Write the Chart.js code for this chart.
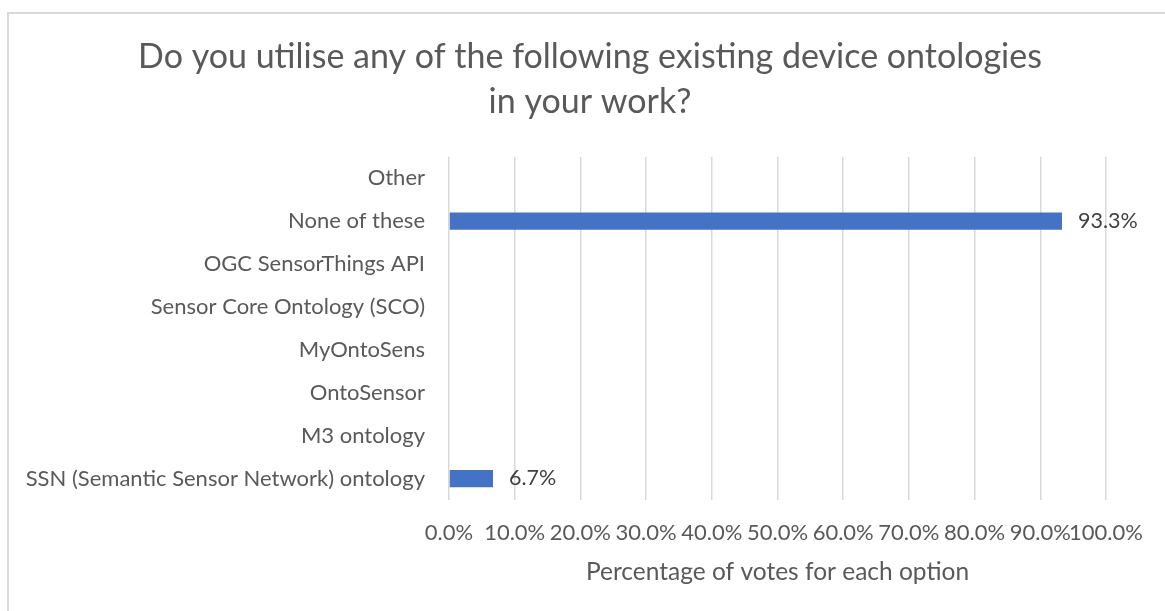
<!DOCTYPE html>
<html><head><meta charset="utf-8">
<script src="https://cdn.jsdelivr.net/npm/chart.js@4/dist/chart.umd.min.js"></script>
<style>
html,body{margin:0;padding:0;background:#fff;}
#wrap{position:relative;width:1165px;height:611px;overflow:hidden;background:#fff;}
#frame{position:absolute;left:7px;top:12px;width:1300px;height:800px;border-left:2px solid #d9d9d9;border-top:2px solid #d9d9d9;}
#c{position:absolute;left:0;top:0;}
</style></head><body>
<div id="wrap"><div id="frame"></div><canvas id="c" width="1165" height="611"></canvas></div>
<script>
const titleLines = ['Do you utilise any of the following existing device ontologies', 'in your work?'];
const axisTitle = 'Percentage of votes for each option';
const categories = ['Other', 'None of these', 'OGC SensorThings API', 'Sensor Core Ontology (SCO)', 'MyOntoSens', 'OntoSensor', 'M3 ontology', 'SSN (Semantic Sensor Network) ontology'];
const votePercent = [0, 93.3, 0, 0, 0, 0, 0, 6.7];
const xMin = 0, xMax = 100, xStep = 10;

const FONT = 'Lato';
const TXT = '#595959';

const dataLabels = {
  id: 'dataLabels',
  afterDatasetsDraw(chart) {
    const ctx = chart.ctx;
    const meta = chart.getDatasetMeta(0);
    ctx.save();
    ctx.font = '21.5px ' + FONT;
    ctx.fillStyle = '#404040';
    ctx.textAlign = 'left';
    ctx.textBaseline = 'middle';
    meta.data.forEach((bar, i) => {
      const v = votePercent[i];
      if (v > 0) ctx.fillText(v.toFixed(1) + '%', bar.x + 16, bar.y);
    });
    ctx.restore();
  }
};

// centre the chart title over the framed card rather than over the padded layout box
const titleCentre = {
  id: 'titleCentre',
  afterLayout(chart) {
    const t = chart.titleBlock;
    if (t) { t.left = 15; t.right = 1165; t.width = 1150; }
  }
};

new Chart(document.getElementById('c'), {
  type: 'bar',
  data: {
    labels: categories,
    datasets: [{
      data: votePercent,
      backgroundColor: '#4472C4',
      borderWidth: 0,
      barPercentage: 0.5,
      categoryPercentage: 0.8
    }]
  },
  options: {
    indexAxis: 'y',
    responsive: false,
    animation: false,
    events: [],
    layout: { padding: { left: 0, right: 59, top: 0, bottom: 0 } },
    plugins: {
      legend: { display: false },
      tooltip: { enabled: false },
      title: {
        display: true,
        text: titleLines,
        color: TXT,
        font: { family: FONT, size: 34, weight: 'normal', lineHeight: 1.32 },
        padding: { top: 35, bottom: 32 }
      }
    },
    scales: {
      x: {
        min: xMin, max: xMax,
        grid: { color: '#d9d9d9', lineWidth: 1.5, drawTicks: false },
        border: { display: false },
        ticks: {
          stepSize: xStep, autoSkip: false, maxRotation: 0, minRotation: 0,
          padding: 20, color: TXT,
          font: { family: FONT, size: 22 },
          callback: v => Number(v).toFixed(1) + '%'
        },
        title: {
          display: true, text: axisTitle, color: TXT,
          font: { family: FONT, size: 24.5, lineHeight: 1.2 },
          padding: { top: 4, bottom: 24 }
        },
        afterFit: s => { s.height = 111; }
      },
      y: {
        grid: { display: false, drawTicks: false },
        border: { display: false },
        ticks: { color: TXT, font: { family: FONT, size: 22 }, padding: 24, autoSkip: false },
        afterFit: s => { s.width = 449; }
      }
    }
  },
  plugins: [dataLabels, titleCentre]
});
</script>
</body></html>
